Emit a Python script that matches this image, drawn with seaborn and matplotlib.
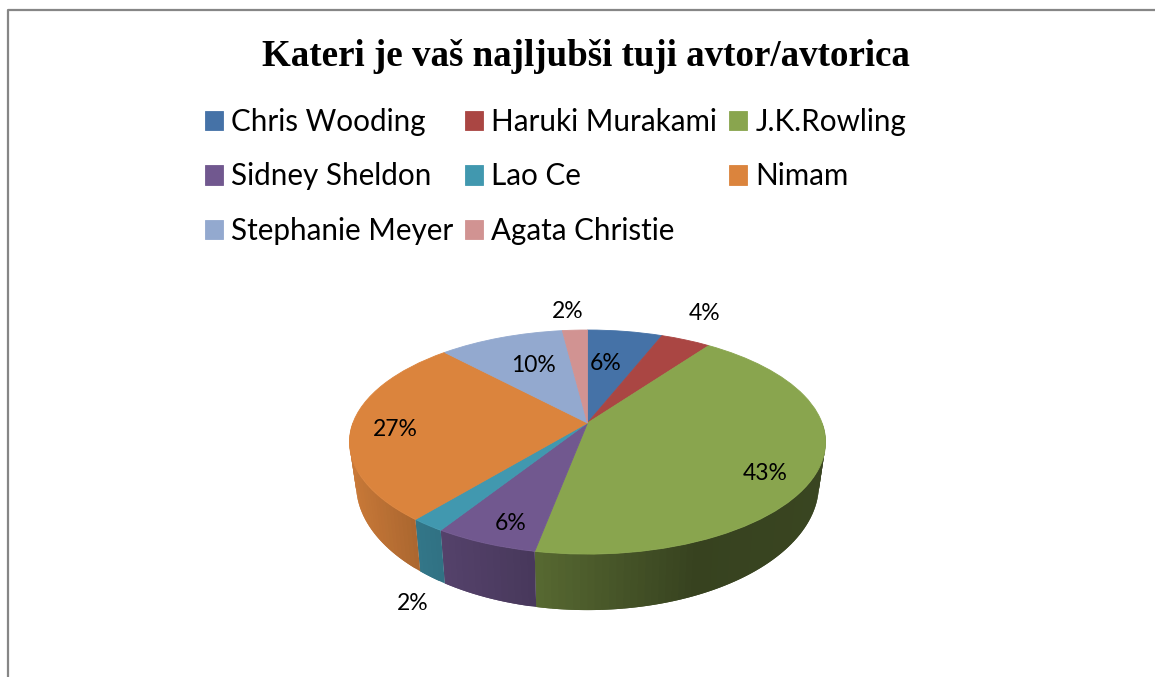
import numpy as np
import matplotlib
matplotlib.use('Agg')
import matplotlib.pyplot as plt
import seaborn as sns
from matplotlib.transforms import Transform

authors = ['Chris Wooding', 'Haruki Murakami', 'J.K.Rowling', 'Sidney Sheldon',
           'Lao Ce', 'Nimam', 'Stephanie Meyer', 'Agata Christie']
percents = [6, 4, 43, 6, 2, 27, 10, 2]
title = 'Kateri je vaš najljubši tuji avtor/avtorica'

colors = sns.color_palette(['#4572A7', '#AA4643', '#89A54E', '#71588F',
                            '#4198AF', '#DB843D', '#93A9CF', '#D19392'])

sns.set_theme(style='white')
plt.rcParams['font.family'] = ['Lato', 'DejaVu Sans']

CX, CY = 587.5, 423
RX, RY = 234.6, 108.8
TILT = 0.17


# perspective view of the unit pie, output is in image pixels
class TiltedPie(Transform):
    input_dims = 2
    output_dims = 2
    is_separable = False
    has_inverse = False

    def transform_non_affine(self, values):
        values = np.asarray(values, dtype=float)
        w = 1 + TILT * values[:, 1]
        return np.column_stack([CX + RX * values[:, 0] / w, CY - RY * values[:, 1] / w])


tilted = TiltedPie()


def rim(deg):
    # deg runs clockwise from 12 o'clock
    rad = np.radians(90 - np.asarray(deg, dtype=float))
    return tilted.transform_non_affine(np.column_stack([np.cos(rad), np.sin(rad)]))


def lower_rim(top):
    # the bottom edge of the pie sits a bit narrower, depth grows towards the viewer
    x = CX + 0.972 * (top[:, 0] - CX)
    y = top[:, 1] + 56 + 0.12 * (top[:, 1] - 554)
    return np.column_stack([x, y])


fig = plt.figure(figsize=(11.55, 6.77), dpi=100, facecolor='white')
ax = fig.add_axes([0, 0, 1, 1])

wedges, _ = ax.pie(percents, startangle=90, counterclock=False, colors=colors,
                   wedgeprops={'linewidth': 0.6, 'zorder': 3})
for wedge in wedges:
    wedge.set_edgecolor(wedge.get_facecolor())
    wedge.set_transform(tilted + ax.transData)

ax.set_aspect('auto')
ax.set_xlim(0, 1155)
ax.set_ylim(677, 0)
ax.set_axis_off()

# side wall, darker towards the right
# every strip runs over into the next one so no seams show
edges = np.cumsum([0] + percents) * 3.6
for i, color in enumerate(colors):
    start, stop = max(edges[i], 90), min(edges[i + 1], 270)
    if stop <= start:
        continue
    steps = np.append(np.arange(start, stop, 1.5), stop)
    for a, b in zip(steps[:-1], steps[1:]):
        top = rim(np.linspace(a, min(b + 1.5, stop), 4))
        shade = np.interp(rim([a])[0, 0], [349, 417, 535, 700, 826], [0.92, 0.78, 0.64, 0.40, 0.42])
        strip = np.vstack([top, lower_rim(top)[::-1]])
        ax.fill(strip[:, 0], strip[:, 1], color=tuple(np.array(color) * shade), linewidth=0, zorder=2)

# chart frame
ax.plot([8, 8, 1155], [677, 10, 10], color='#868686', linewidth=1.6, zorder=1, clip_on=False)

ax.text(586, 56, title, ha='center', va='center', fontsize=26.65, fontweight='bold',
        family=['Liberation Serif'], color='black')

label_xy = [(606, 363), (705, 314), (765, 474), (511, 523), (413, 604), (395, 429), (533, 366), (568, 311)]
for pct, (x, y) in zip(percents, label_xy):
    ax.text(x, y, f'{pct}%', ha='center', va='center', fontsize=16.5, color='black', zorder=5)

# matplotlib fills legend columns first, reference reads in rows
order = [0, 3, 6, 1, 4, 7, 2, 5]
ax.legend([wedges[i] for i in order], [authors[i] for i in order], ncol=3, frameon=False,
          fontsize=21.3, labelcolor='black', handlelength=0.62, handleheight=0.62, handletextpad=0.27,
          columnspacing=0.39, labelspacing=0.89, borderpad=0, borderaxespad=0,
          loc='upper left', bbox_to_anchor=(205 / 1155, 1 - 108 / 677))

fig.savefig('out.png', dpi=100)
